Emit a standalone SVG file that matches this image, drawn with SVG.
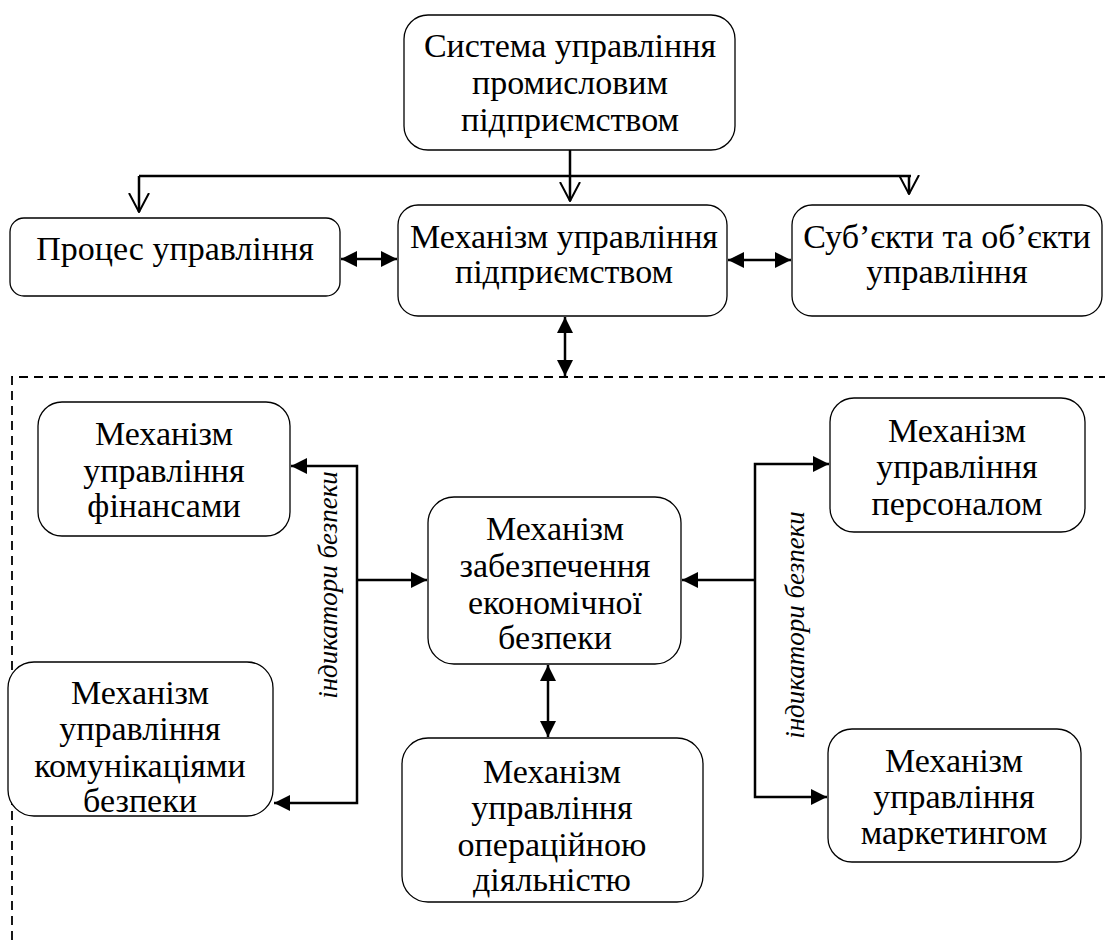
<svg xmlns="http://www.w3.org/2000/svg" width="1109" height="940" viewBox="0 0 1109 940">
  <style>
    .box { fill: #fff; stroke: #000; stroke-width: 1.3; }
    .t { font-size: 34px; text-anchor: middle; }
    .it { font-size: 27px; font-style: italic; text-anchor: middle; }
    .ln { fill: none; stroke: #000; stroke-width: 2.5; }
    .dash { fill: none; stroke: #000; stroke-width: 1.8; stroke-dasharray: 9 6; }
  </style>
  <defs>
    <marker id="open" viewBox="0 0 20 22" refX="19" refY="11" markerWidth="20" markerHeight="22" markerUnits="userSpaceOnUse" orient="auto">
      <path d="M0,1 L19,11 L0,21" fill="none" stroke="#000" stroke-width="2"/>
    </marker>
    <marker id="solid" viewBox="0 0 16 16" refX="16" refY="8" markerWidth="16" markerHeight="16" markerUnits="userSpaceOnUse" orient="auto-start-reverse">
      <path d="M0,0 L16,8 L0,16 Z" fill="#000"/>
    </marker>
  </defs>

  <!-- boundary of the security subsystem -->
  <path class="dash" d="M12,940 V377 H1105"/>

  <g font-family="Liberation Serif, Times New Roman, serif" fill="#000">
  <g id="connectors">
    <!-- top distribution -->
    <path class="ln" d="M570,150 V201" marker-end="url(#open)"/>
    <path class="ln" d="M139,176 H911"/>
    <path class="ln" d="M139,176 V212" marker-end="url(#open)"/>
    <path class="ln" d="M909,176 V194" marker-end="url(#open)"/>
    <!-- links with the enterprise mechanism -->
    <path class="ln" d="M341,259 H397" marker-start="url(#solid)" marker-end="url(#solid)"/>
    <path class="ln" d="M728,260 H791" marker-start="url(#solid)" marker-end="url(#solid)"/>
    <path class="ln" d="M565,317 V376" marker-start="url(#solid)" marker-end="url(#solid)"/>
    <!-- left branch -->
    <path class="ln" d="M291,466 H357 V803 H274" marker-start="url(#solid)" marker-end="url(#solid)"/>
    <path class="ln" d="M357,580 H427" marker-end="url(#solid)"/>
    <!-- right branch -->
    <path class="ln" d="M829,464 H755 V797 H827" marker-start="url(#solid)" marker-end="url(#solid)"/>
    <path class="ln" d="M755,580 H682" marker-end="url(#solid)"/>
    <!-- to operational mechanism -->
    <path class="ln" d="M548,665 V737" marker-start="url(#solid)" marker-end="url(#solid)"/>
    <text class="it" transform="translate(337,585) rotate(-90)">індикатори безпеки</text>
    <text class="it" transform="translate(804,625) rotate(-90)">індикатори безпеки</text>
  </g>

  <g id="system">
    <rect class="box" x="404" y="15" width="331" height="135" rx="24"/>
    <text class="t" x="570" y="57">Система управління</text>
    <text class="t" x="570" y="94">промисловим</text>
    <text class="t" x="570" y="131">підприємством</text>
  </g>

  <g id="process">
    <rect class="box" x="10" y="218" width="330" height="78" rx="14"/>
    <text class="t" x="175" y="260">Процес управління</text>
  </g>

  <g id="enterprise-mechanism">
    <rect class="box" x="398" y="205" width="329" height="111" rx="20"/>
    <text class="t" x="564" y="248">Механізм управління</text>
    <text class="t" x="564" y="283">підприємством</text>
  </g>

  <g id="subjects">
    <rect class="box" x="792" y="205" width="310" height="111" rx="20"/>
    <text class="t" x="947" y="248">Суб’єкти та об’єкти</text>
    <text class="t" x="947" y="283">управління</text>
  </g>

  <g id="finance">
    <rect class="box" x="38" y="402" width="252" height="134" rx="24"/>
    <text class="t" x="164" y="445">Механізм</text>
    <text class="t" x="164" y="482">управління</text>
    <text class="t" x="164" y="517">фінансами</text>
  </g>

  <g id="communications">
    <rect class="box" x="8" y="662" width="265" height="154" rx="26"/>
    <text class="t" x="140" y="704">Механізм</text>
    <text class="t" x="140" y="740">управління</text>
    <text class="t" x="140" y="777">комунікаціями</text>
    <text class="t" x="140" y="812">безпеки</text>
  </g>

  <g id="economic-security">
    <rect class="box" x="428" y="497" width="253" height="167" rx="26"/>
    <text class="t" x="555" y="540">Механізм</text>
    <text class="t" x="555" y="577">забезпечення</text>
    <text class="t" x="555" y="614">економічної</text>
    <text class="t" x="555" y="649">безпеки</text>
  </g>

  <g id="operations">
    <rect class="box" x="402" y="738" width="301" height="164" rx="26"/>
    <text class="t" x="552" y="783">Механізм</text>
    <text class="t" x="552" y="819">управління</text>
    <text class="t" x="552" y="856">операційною</text>
    <text class="t" x="552" y="891">діяльністю</text>
  </g>

  <g id="personnel">
    <rect class="box" x="830" y="398" width="255" height="134" rx="24"/>
    <text class="t" x="957" y="442">Механізм</text>
    <text class="t" x="957" y="478">управління</text>
    <text class="t" x="957" y="515">персоналом</text>
  </g>

  <g id="marketing">
    <rect class="box" x="828" y="729" width="253" height="133" rx="24"/>
    <text class="t" x="954" y="772">Механізм</text>
    <text class="t" x="954" y="808">управління</text>
    <text class="t" x="954" y="844">маркетингом</text>
  </g>
  </g>
</svg>
